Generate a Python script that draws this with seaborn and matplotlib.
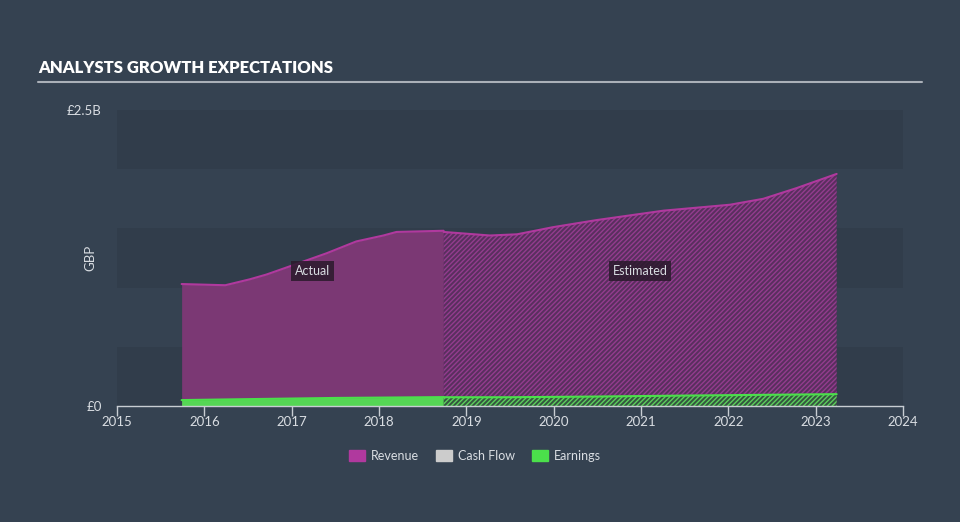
import numpy as np
import pandas as pd
import seaborn as sns
import matplotlib
matplotlib.use("Agg")
import matplotlib.pyplot as plt
from matplotlib.patches import Patch

# ---- data (GBP billions) ----
rev_actual_x = [2015.74, 2016.24, 2016.52, 2016.71, 2016.98, 2017.40, 2017.74, 2018.05, 2018.20, 2018.74]
rev_actual_y = [1.03, 1.02, 1.07, 1.11, 1.18, 1.29, 1.39, 1.44, 1.47, 1.48]
rev_est_x = [2018.74, 2019.27, 2019.58, 2019.99, 2020.49, 2021.26, 2022.02, 2022.40, 2022.78, 2023.24]
rev_est_y = [1.47, 1.44, 1.45, 1.51, 1.57, 1.65, 1.70, 1.75, 1.84, 1.96]
earn_actual_x = [2015.74, 2016.5, 2017.5, 2018.74]
earn_actual_y = [0.05, 0.058, 0.068, 0.075]
earn_est_x = [2018.74, 2019.5, 2020.5, 2021.5, 2022.5, 2023.24]
earn_est_y = [0.074, 0.074, 0.080, 0.088, 0.095, 0.10]
x_ticks = list(range(2015, 2025))
y_tick_labels = ["£0", "£2.5B"]
legend_labels = ["Revenue", "Cash Flow", "Earnings"]

BG = "#354251"
DARK_BAND = "#313d4b"
REV = "#7b3874"
REV_LINE = "#b0399e"
EARN = "#55d655"
EARN_LINE = "#4be04b"
TXT = "#d9dde2"

sns.set_theme(style="dark")
plt.rcParams["font.family"] = ["Lato", "DejaVu Sans"]
plt.rcParams["hatch.linewidth"] = 1.0

fig = plt.figure(figsize=(9.6, 5.22), dpi=100, facecolor=BG)
ax = fig.add_axes([117/960, 1-406/522, (903-117)/960, (406-110)/522])
ax.set_facecolor(BG)

# horizontal bands
for i, lo in enumerate(np.arange(0, 2.5, 0.5)):
    if i % 2 == 0:
        ax.axhspan(lo, lo + 0.5, color=DARK_BAND, lw=0, zorder=0)

df_ra = pd.DataFrame({"x": rev_actual_x, "y": rev_actual_y})
df_re = pd.DataFrame({"x": rev_est_x, "y": rev_est_y})
df_ea = pd.DataFrame({"x": earn_actual_x, "y": earn_actual_y})
df_ee = pd.DataFrame({"x": earn_est_x, "y": earn_est_y})

# revenue
ax.fill_between(df_ra.x, 0, df_ra.y, color=REV, lw=0, zorder=1)
ax.fill_between(df_re.x, 0, df_re.y, facecolor="#592f5e", edgecolor="#933c8e",
                hatch="///////", lw=0, zorder=1)
sns.lineplot(data=df_ra, x="x", y="y", ax=ax, color=REV_LINE, lw=1.5, zorder=3)
sns.lineplot(data=df_re, x="x", y="y", ax=ax, color=REV_LINE, lw=1.5, zorder=3)

# earnings
ax.fill_between(df_ea.x, 0, df_ea.y, color=EARN, lw=0, zorder=2)
ax.fill_between(df_ee.x, 0, df_ee.y, facecolor="#34563f", edgecolor="#5ccf5c",
                hatch="///////", lw=0, zorder=2)
sns.lineplot(data=df_ea, x="x", y="y", ax=ax, color=EARN_LINE, lw=1.5, zorder=3)
sns.lineplot(data=df_ee, x="x", y="y", ax=ax, color=EARN_LINE, lw=1.5, zorder=3)

ax.set_xlim(2015, 2024)
ax.set_ylim(0, 2.5)
ax.set_xlabel("")
ax.set_ylabel("")
ax.grid(False)
for s in ["top", "right", "left"]:
    ax.spines[s].set_visible(False)
ax.spines["bottom"].set_color("#c8cdd3")
ax.spines["bottom"].set_linewidth(1)

ax.set_xticks(x_ticks)
ax.set_xticklabels([str(t) for t in x_ticks], color=TXT, fontsize=9.5)
ax.tick_params(axis="x", direction="out", length=7, width=1, color="#c8cdd3", pad=0, bottom=True)
ax.set_yticks([0, 2.5])
ax.set_yticklabels(y_tick_labels, color=TXT, fontsize=9.5)
ax.tick_params(axis="y", length=0, pad=11)

ax.text(-0.034, 0.5, "GBP", transform=ax.transAxes, rotation=90, color=TXT,
        fontsize=9.5, ha="center", va="center")

# annotations
ax.text(2017.24, 1.14, "Actual", color=TXT, fontsize=9, ha="center", va="center",
        bbox=dict(boxstyle="square,pad=0.3", fc="#2a1a2c", ec="none", alpha=0.85), zorder=5)
ax.text(2020.99, 1.14, "Estimated", color=TXT, fontsize=9, ha="center", va="center",
        bbox=dict(boxstyle="square,pad=0.3", fc="#2a1a2c", ec="none", alpha=0.85), zorder=5)

# title and rule
fig.text(38/960, 1-68/522, "ANALYSTS GROWTH EXPECTATIONS", color="white",
         fontsize=12, fontweight="heavy", va="center", ha="left",
         family=["Lato", "DejaVu Sans"])
fig.add_artist(plt.Line2D([38/960, 922/960], [1-82/522, 1-82/522], color="#aab0b8", lw=1.5))

# legend
handles = [Patch(color=REV_LINE), Patch(color="#cccccc"), Patch(color=EARN_LINE)]
leg = fig.legend(handles, legend_labels, loc="center", bbox_to_anchor=(475/960, 1-456/522),
                 ncol=3, frameon=False, fontsize=9, handlelength=1.3, handleheight=1.0,
                 columnspacing=1.3, handletextpad=0.5)
for t in leg.get_texts():
    t.set_color(TXT)

fig.savefig("out.png", dpi=100, facecolor=BG)
